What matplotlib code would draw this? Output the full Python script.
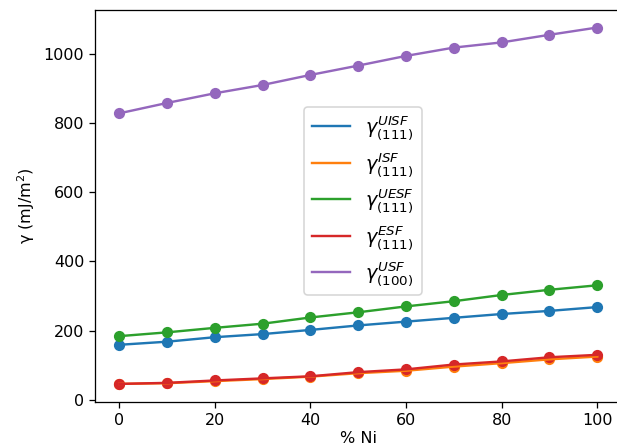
import matplotlib
matplotlib.use("Agg")
import matplotlib.pyplot as plt

ni = [0, 10, 20, 30, 40, 50, 60, 70, 80, 90, 100]
uisf_111 = [159, 168, 181, 190, 202, 215, 226, 237, 248, 257, 268]
isf_111 = [46, 48, 54, 60, 67, 77, 84, 96, 106, 117, 125]
uesf_111 = [184, 195, 208, 220, 238, 253, 270, 285, 303, 318, 331]
esf_111 = [46, 49, 56, 62, 68, 80, 88, 102, 111, 123, 130]
usf_100 = [828, 858, 886, 910, 939, 966, 994, 1018, 1033, 1055, 1076]

labels = [r'$\gamma_{(111)}^{UISF}$', r'$\gamma_{(111)}^{ISF}$',
          r'$\gamma_{(111)}^{UESF}$', r'$\gamma_{(111)}^{ESF}$',
          r'$\gamma_{(100)}^{USF}$']
series = [uisf_111, isf_111, uesf_111, esf_111, usf_100]

DPI = 115
fig = plt.figure(figsize=(617 / DPI, 447 / DPI), dpi=DPI)
ax = fig.add_axes([0.1546, 0.1013, 0.8522, 0.877])

for s, lab in zip(series, labels):
    ax.plot(ni, s, label=lab)
for s in series:
    ax.scatter(ni, s)

ax.set_xlabel('% Ni', labelpad=2)
ax.set_ylabel('γ (mJ/m$^2$)')
ax.legend(loc='center', fontsize=12, bbox_to_anchor=(0.509, 0.512))
fig.savefig('out.png', dpi=DPI)
